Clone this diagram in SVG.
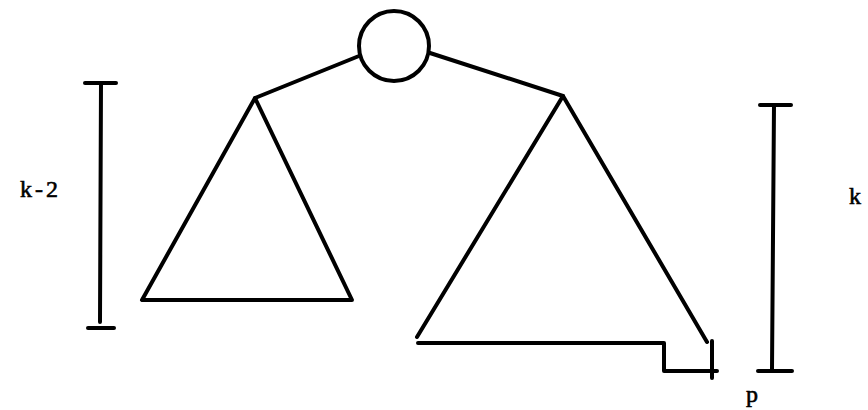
<svg xmlns="http://www.w3.org/2000/svg" width="868" height="410" viewBox="0 0 868 410">
<style>
.ln{stroke:#000;stroke-width:4;fill:none;stroke-linecap:round;stroke-linejoin:round}
.lb{font-family:"Liberation Serif","DejaVu Serif",serif;font-size:24px;fill:#000;stroke:#000;stroke-width:0.6}
</style>
<rect width="868" height="410" fill="#fff"/>
<g id="root"><circle class="ln" cx="394" cy="46" r="35"/></g>
<g id="left-subtree"><polygon class="ln" points="255,98 142,300 352,300"/></g>
<g id="right-subtree"><polyline class="ln" points="417,337 563,96 707,342"/><polyline class="ln" points="418,343 664,343 664,371 717,371"/><line class="ln" x1="712" y1="341" x2="712" y2="378"/></g>
<g id="connectors">
<line class="ln" x1="359" y1="56" x2="255" y2="98"/>
<line class="ln" x1="430" y1="53" x2="563" y2="96"/>
</g>
<g id="bracket-left"><line class="ln" x1="101" y1="83" x2="100" y2="322"/><line class="ln" x1="85" y1="83" x2="116" y2="83"/><line class="ln" x1="88" y1="328" x2="114" y2="328"/><text class="lb" x="20" y="197" letter-spacing="3">k-2</text></g>
<g id="bracket-right"><line class="ln" x1="774" y1="105" x2="772" y2="369"/><line class="ln" x1="760" y1="105" x2="791" y2="105"/><line class="ln" x1="758" y1="371" x2="792" y2="371"/><text class="lb" x="849" y="204">k</text><text class="lb" x="746" y="402">p</text></g>
</svg>
